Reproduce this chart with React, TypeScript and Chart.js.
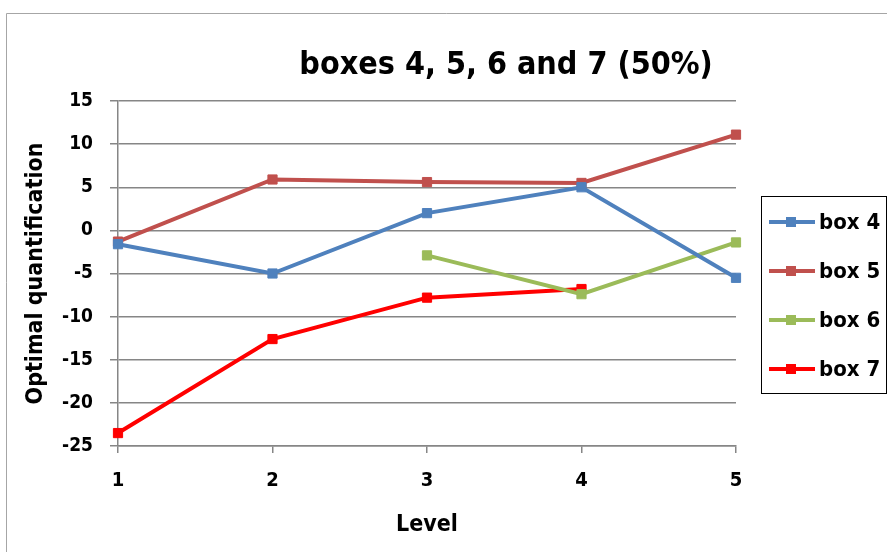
import { useEffect, useRef } from "react";
import { Chart, registerables } from "chart.js";

Chart.register(...registerables);

// Chart data
const levels = ["1", "2", "3", "4", "5"];
const box4 = [-1.6, -5.0, 2.0, 5.0, -5.5];
const box5 = [-1.3, 5.9, 5.6, 5.5, 11.1];
const box6 = [null, null, -2.9, -7.4, -1.4];
const box7 = [-23.5, -12.6, -7.8, -6.8, null];
const seriesNames = ["box 4", "box 5", "box 6", "box 7"];
const seriesColors = ["#4F81BD", "#C0504D", "#9BBB59", "#FF0000"];
const chartTitle = "boxes 4, 5, 6 and 7 (50%)";
const xTitle = "Level";
const yTitle = "Optimal quantification";
const yMin = -25;
const yMax = 15;
const yStep = 5;

const FONT = "'Liberation Sans Narrow', 'DejaVu Sans Condensed', sans-serif";
const GRID = "#868686";

// White background and the outer frame of the chart object
const framePlugin = {
  id: "frame",
  beforeDraw(chart: any) {
    const { ctx, width, height } = chart;
    ctx.save();
    ctx.fillStyle = "#ffffff";
    ctx.fillRect(0, 0, width, height);
    ctx.strokeStyle = "#a6a6a6";
    ctx.lineWidth = 1;
    ctx.beginPath();
    ctx.moveTo(6.5, height);
    ctx.lineTo(6.5, 13.5);
    ctx.lineTo(width, 13.5);
    ctx.stroke();
    ctx.restore();
  },
};

// Title, offset to the right like the original layout
const titlePlugin = {
  id: "offsetTitle",
  afterDraw(chart: any) {
    const { ctx } = chart;
    ctx.save();
    ctx.fillStyle = "#000";
    ctx.font = `bold 32px ${FONT}`;
    ctx.textAlign = "center";
    ctx.textBaseline = "middle";
    ctx.fillText(chartTitle, 506, 66);
    ctx.restore();
  },
};

// Boxed legend with line + square marker samples
const legendPlugin = {
  id: "boxLegend",
  afterDraw(chart: any) {
    const { ctx } = chart;
    const x0 = 761.5;
    const y0 = 196.5;
    ctx.save();
    ctx.strokeStyle = "#000";
    ctx.lineWidth = 1;
    ctx.strokeRect(x0, y0, 125, 197);
    chart.data.datasets.forEach((ds: any, i: number) => {
      const y = 222 + i * 49;
      ctx.strokeStyle = ds.borderColor;
      ctx.lineWidth = 4;
      ctx.beginPath();
      ctx.moveTo(769, y);
      ctx.lineTo(815, y);
      ctx.stroke();
      ctx.fillStyle = ds.borderColor;
      ctx.fillRect(786, y - 5, 10, 10);
      ctx.fillStyle = "#000";
      ctx.font = `bold 22px ${FONT}`;
      ctx.textAlign = "left";
      ctx.textBaseline = "middle";
      ctx.fillText(ds.label, 819, y + 1);
    });
    ctx.restore();
  },
};

export default function App() {
  const canvasRef = useRef<HTMLCanvasElement | null>(null);

  useEffect(() => {
    const canvas = canvasRef.current;
    if (!canvas) return;
    const seriesValues = [box4, box5, box6, box7];
    const chart = new Chart(canvas, {
      type: "line",
      data: {
        labels: levels,
        datasets: seriesValues.map((values, i) => ({
          label: seriesNames[i],
          data: values,
          borderColor: seriesColors[i],
          backgroundColor: seriesColors[i],
          borderWidth: 4,
          pointStyle: "rect",
          pointRadius: 6.5,
          pointBorderWidth: 1,
          pointBorderColor: seriesColors[i],
          pointBackgroundColor: seriesColors[i],
          tension: 0,
          spanGaps: false,
          fill: false,
        })),
      },
      options: {
        animation: false,
        responsive: false,
        devicePixelRatio: 1,
        layout: { padding: { top: 101, right: 151, left: 0, bottom: 0 } },
        plugins: {
          legend: { display: false },
          title: { display: false },
          tooltip: { enabled: false },
        },
        scales: {
          x: {
            type: "category",
            offset: false,
            grid: {
              display: true,
              drawOnChartArea: false,
              drawTicks: true,
              tickLength: 7,
              color: GRID,
              lineWidth: 1.5,
            },
            border: { display: true, color: GRID, width: 1.5 },
            ticks: {
              color: "#000",
              font: { family: FONT, size: 20, weight: "bold" },
              padding: 16,
              maxRotation: 0,
            },
            title: {
              display: true,
              text: xTitle,
              color: "#000",
              font: { family: FONT, size: 23, weight: "bold" },
              padding: { top: 0, bottom: 13 },
            },
            afterFit(scale: any) {
              scale.height = 106;
            },
          },
          y: {
            min: yMin,
            max: yMax,
            grid: {
              color: GRID,
              lineWidth: 1.5,
              drawTicks: true,
              tickLength: 8,
            },
            border: { display: true, color: GRID, width: 1.5 },
            ticks: {
              stepSize: yStep,
              color: "#000",
              font: { family: FONT, size: 19, weight: "bold" },
              padding: 17,
            },
            title: {
              display: true,
              text: yTitle,
              color: "#000",
              font: { family: FONT, size: 23, weight: "bold" },
              padding: { top: 22, bottom: 0 },
            },
            afterFit(scale: any) {
              scale.width = 118;
            },
          },
        },
      },
      plugins: [framePlugin, titlePlugin, legendPlugin],
    });
    return () => chart.destroy();
  }, []);

  return (
    <div style={{ position: "absolute", left: 0, top: 0, width: 887, height: 552 }}>
      <canvas ref={canvasRef} width={887} height={552} style={{ display: "block" }} />
    </div>
  );
}
